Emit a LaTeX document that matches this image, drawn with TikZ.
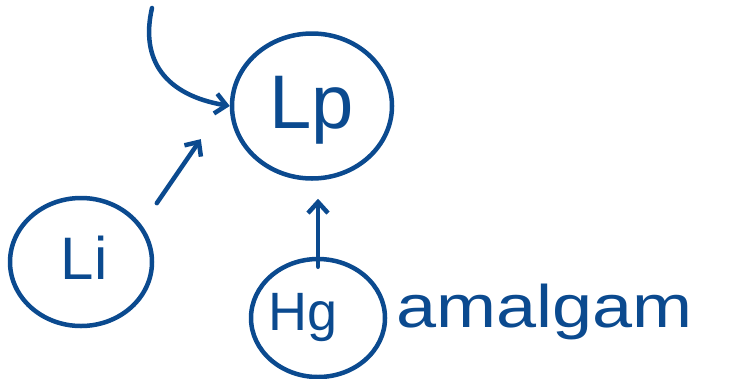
\documentclass[tikz,border=0pt]{standalone}
\usepackage{fontspec}
\setmainfont{Liberation Sans}
\usetikzlibrary{arrows.meta,shapes.geometric}
\definecolor{ink}{HTML}{0B4A8F}
\tikzset{
  pen/.style={draw=ink, line width=4.5pt, line cap=round, line join=round},
  bubble/.style={pen, ellipse, inner sep=0pt},
  arr/.style={pen, -{Straight Barb[length=11pt,width=20pt,line width=4.5pt]}},
  ink text/.style={text=ink, inner sep=0pt}
}
\begin{document}
\begin{tikzpicture}[x=1pt,y=-1pt]
\useasboundingbox (0,0) rectangle (735,378);
\node[bubble, minimum width=160pt, minimum height=145pt] (lp) at (312,106) {};
\node[ink text, font=\fontsize{76}{76}\selectfont] (lpt) at (312,110) {Lp};
\node[bubble, minimum width=142pt, minimum height=128pt] (li) at (81,262) {};
\node[ink text, font=\fontsize{60}{60}\selectfont] (lit) at (84,258) {Li};
\node[bubble, minimum width=134pt, minimum height=118pt] (hg) at (318,318) {};
\node[ink text, font=\fontsize{54}{54}\selectfont] (hgt) at (303,318) {Hg};
\node[ink text, font=\fontsize{60}{60}\selectfont, anchor=west, xscale=1.2, transform shape] (am) at (396,312) {amalgam};
\coordinate (top) at (152,8);
\draw[arr] (top) .. controls (140,60) and (165,95) .. (lp.west);
\draw[arr] ([shift={(24,-12)}]li.north east) -- ++(44,-64);
\draw[arr] ([yshift=-10pt]hg.north) -- ++(0,-68);
\end{tikzpicture}
\end{document}
